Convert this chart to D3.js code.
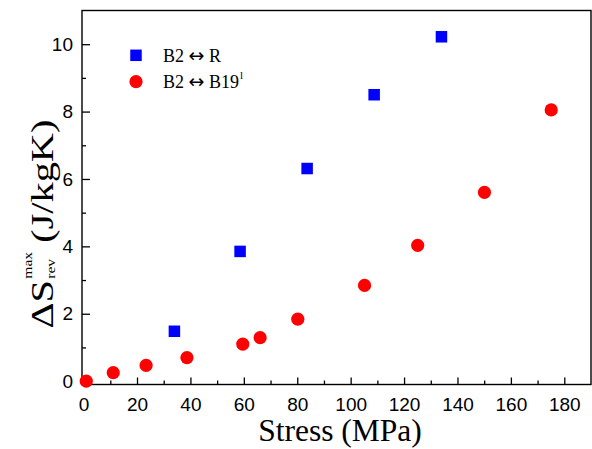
<!DOCTYPE html>
<html>
<head>
<meta charset="utf-8">
<script src="https://cdn.jsdelivr.net/npm/d3@7"></script>
<style>
  html, body { margin: 0; padding: 0; background: #fff; }
  svg { display: block; }
</style>
</head>
<body>
<svg id="chart" width="592" height="449"></svg>
<script>
// ---- data ----
const stressR = [34, 58.6, 83.7, 108.8, 134];
const entropyR = [1.48, 3.85, 6.31, 8.50, 10.22];
const stressB19 = [1, 11.1, 23.4, 38.7, 59.6, 66.1, 80.2, 105.2, 125.1, 150.1, 175.1];
const entropyB19 = [0.0, 0.25, 0.47, 0.70, 1.10, 1.29, 1.84, 2.84, 4.03, 5.60, 8.05];
const xTicks = [0, 20, 40, 60, 80, 100, 120, 140, 160, 180];
const xMinor = [10, 30, 50, 70, 90, 110, 130, 150, 170];
const yTicks = [0, 2, 4, 6, 8, 10];
const yMinor = [1, 3, 5, 7, 9];
const seriesNames = [["B2 ", "\u2194", " R"], ["B2 ", "\u2194", " B19"]];

const svg = d3.select("#chart");
const L = 82, R = 591, T = 10.5, B = 384.5;
const x = d3.scaleLinear().domain([-0.6, 190]).range([L, R]);
const y = d3.scaleLinear().domain([-0.1, 11]).range([B, T]);

const tickFont = "'Liberation Sans', Arial, sans-serif";
const serif = "'Liberation Serif', 'Times New Roman', serif";

// axes
const gx = svg.append("g").attr("transform", `translate(0,${B})`)
  .call(d3.axisBottom(x).tickValues(xTicks).tickSize(-7).tickPadding(13).tickFormat(d3.format("d")));
const gxm = svg.append("g").attr("transform", `translate(0,${B})`)
  .call(d3.axisBottom(x).tickValues(xMinor).tickSize(-4).tickFormat(""));
const gy = svg.append("g").attr("transform", `translate(${L},0)`)
  .call(d3.axisLeft(y).tickValues(yTicks).tickSize(-8).tickPadding(9).tickFormat(d3.format("d")));
const gym = svg.append("g").attr("transform", `translate(${L},0)`)
  .call(d3.axisLeft(y).tickValues(yMinor).tickSize(-4).tickFormat(""));
[gx, gxm, gy, gym].forEach(g => {
  g.select(".domain").remove();
  g.selectAll("line").attr("stroke", "#000").attr("stroke-width", 1.3);
  g.selectAll("text").attr("font-family", tickFont).attr("font-size", 19).attr("fill", "#000");
});

// frame
svg.append("rect").attr("x", L).attr("y", T).attr("width", R - L).attr("height", B - T)
  .attr("fill", "none").attr("stroke", "#000").attr("stroke-width", 1.4);

// data: squares
const sq = 11.5;
svg.append("g").selectAll("rect").data(stressR.map((d, i) => [d, entropyR[i]])).join("rect")
  .attr("x", d => x(d[0]) - sq / 2).attr("y", d => y(d[1]) - sq / 2)
  .attr("width", sq).attr("height", sq).attr("fill", "#0000ff");

// data: circles
svg.append("g").selectAll("circle").data(stressB19.map((d, i) => [d, entropyB19[i]])).join("circle")
  .attr("cx", d => x(d[0])).attr("cy", d => y(d[1])).attr("r", 6.6).attr("fill", "#ff0000");

// legend
svg.append("rect").attr("x", 136 - sq / 2).attr("y", 55.3 - sq / 2).attr("width", sq).attr("height", sq).attr("fill", "#0000ff");
svg.append("circle").attr("cx", 136).attr("cy", 81.7).attr("r", 6.6).attr("fill", "#ff0000");
function legendText(parts, yb) {
  const t = svg.append("text").attr("x", 163).attr("y", yb).attr("font-family", serif).attr("font-size", 18);
  t.append("tspan").text(parts[0]);
  t.append("tspan").attr("font-family", "'DejaVu Sans', sans-serif").attr("font-size", 19).text(parts[1]);
  t.append("tspan").text(parts[2]);
  return t;
}
legendText(seriesNames[0], 61.7);
const t2 = legendText(seriesNames[1], 87.6);
t2.append("tspan").attr("font-size", 11).attr("dy", -9).attr("dx", 1).text("l");

// x title
svg.append("text").attr("x", 340).attr("y", 441).attr("text-anchor", "middle")
  .attr("font-family", serif).attr("font-size", 31.5).text("Stress (MPa)");

// y title (rotated)
const gl = svg.append("g").attr("transform", "translate(53,224) rotate(-90)");
const inner = gl.append("g");
const p1 = inner.append("text").attr("font-family", serif).attr("font-size", 31).attr("x", 0).attr("y", 0).text("\u0394S");
const w1 = p1.node().getComputedTextLength();
const sup = inner.append("text").attr("font-family", serif).attr("font-size", 12).attr("x", w1 + 1).attr("y", -21).text("max");
const sub = inner.append("text").attr("font-family", serif).attr("font-size", 12).attr("x", w1 + 1).attr("y", 2).text("rev");
const w2 = Math.max(sup.node().getComputedTextLength(), sub.node().getComputedTextLength());
const p2 = inner.append("text").attr("font-family", serif).attr("font-size", 31).attr("x", w1 + w2 + 8).attr("y", 0).text("(J/kgK)");
const total = w1 + w2 + 8 + p2.node().getComputedTextLength();
const stretch = 1.3;
inner.attr("transform", `scale(${stretch},1) translate(${-total / 2},0)`);
</script>
</body>
</html>
